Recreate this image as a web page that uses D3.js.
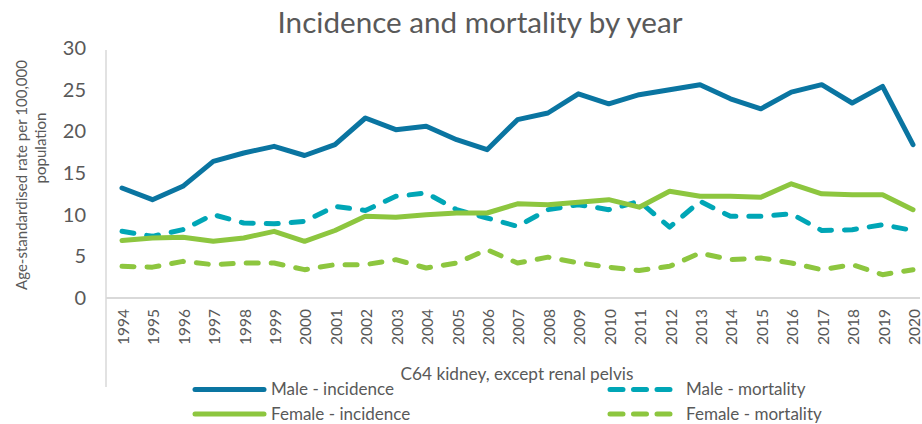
<!DOCTYPE html>
<html>
<head>
<meta charset="utf-8">
<title>Incidence and mortality by year</title>
<script src="https://d3js.org/d3.v7.min.js"></script>
<style>
  body { margin: 0; background: #fff; }
  text { font-family: Lato, "Open Sans", sans-serif; fill: #595959; }
</style>
</head>
<body>
<script>
const years = d3.range(1994, 2021).map(String);
const maleIncidence = [13.2, 11.8, 13.4, 16.4, 17.4, 18.2, 17.1, 18.4, 21.6, 20.2, 20.6, 19.0, 17.8, 21.4, 22.2, 24.5, 23.3, 24.4, 25.0, 25.6, 23.9, 22.7, 24.7, 25.6, 23.4, 25.4, 18.4];
const maleMortality = [8.0, 7.4, 8.2, 10.0, 9.0, 8.9, 9.2, 11.0, 10.5, 12.2, 12.6, 10.6, 9.6, 8.6, 10.6, 11.2, 10.6, 11.6, 8.5, 11.6, 9.8, 9.8, 10.1, 8.1, 8.2, 8.8, 8.1];
const femaleIncidence = [6.9, 7.2, 7.3, 6.8, 7.2, 8.0, 6.8, 8.1, 9.8, 9.7, 10.0, 10.2, 10.2, 11.3, 11.2, 11.5, 11.8, 10.9, 12.8, 12.2, 12.2, 12.1, 13.7, 12.5, 12.4, 12.4, 10.6];
const femaleMortality = [3.8, 3.7, 4.4, 4.0, 4.2, 4.2, 3.4, 4.0, 4.0, 4.6, 3.6, 4.2, 5.8, 4.2, 4.9, 4.2, 3.7, 3.3, 3.8, 5.4, 4.6, 4.8, 4.2, 3.4, 4.0, 2.8, 3.4];
const yTicks = [0, 5, 10, 15, 20, 25, 30];

const series = [
  {name: "Male - incidence", values: maleIncidence, color: "#0a75a1", dash: false},
  {name: "Male - mortality", values: maleMortality, color: "#00a6b6", dash: true},
  {name: "Female - incidence", values: femaleIncidence, color: "#8dc63f", dash: false},
  {name: "Female - mortality", values: femaleMortality, color: "#8dc63f", dash: true}
];

const width = 922, height = 424;
const svg = d3.select("body").append("svg")
  .attr("width", width).attr("height", height);

const x = d3.scalePoint().domain(years).range([122, 913]);
const y = d3.scaleLinear().domain([0, 30]).range([298, 48]);

// scale a text's font so its rendered width matches the width in the picture
function fit(sel, w) {
  sel.each(function() {
    const fs = parseFloat(this.style.fontSize);
    const len = this.getComputedTextLength();
    this.style.fontSize = (fs * w / len).toFixed(2) + "px";
  });
}

// title
svg.append("text")
  .attr("x", 480).attr("y", 33)
  .attr("text-anchor", "middle")
  .style("font-size", "25px")
  .text("Incidence and mortality by year")
  .call(fit, 405);

// axis lines
svg.append("line")
  .attr("x1", 106).attr("x2", 106).attr("y1", 50).attr("y2", 387)
  .attr("stroke", "#d9d9d9").attr("stroke-width", 1.5);
svg.append("line")
  .attr("x1", 106).attr("x2", 920).attr("y1", y(0)).attr("y2", y(0))
  .attr("stroke", "#d9d9d9").attr("stroke-width", 2);

// y axis labels
const yAxis = svg.append("g").attr("transform", "translate(86,0)")
  .call(d3.axisLeft(y).tickValues(yTicks).tickSize(0).tickPadding(0));
yAxis.select(".domain").remove();
yAxis.selectAll("text").style("font-size", "20px").attr("fill", "#595959");

// x axis labels
const xAxis = svg.append("g").attr("transform", "translate(1," + (y(0) + 12) + ")")
  .call(d3.axisBottom(x).tickSize(0).tickPadding(0));
xAxis.select(".domain").remove();
xAxis.selectAll("text")
  .style("font-size", "15.5px").attr("fill", "#595959")
  .attr("text-anchor", "start")
  .attr("transform", "rotate(-90)")
  .attr("x", -35).attr("y", 0).attr("dy", "0.35em");

// y axis title (two lines)
const yt1 = svg.append("text")
  .attr("transform", "translate(22,175) rotate(-90)")
  .attr("text-anchor", "middle")
  .attr("dy", "0.35em")
  .style("font-size", "16px")
  .text("Age-standardised rate per 100,000")
  .call(fit, 230);
svg.append("text")
  .attr("transform", "translate(41,148) rotate(-90)")
  .attr("text-anchor", "middle")
  .attr("dy", "0.35em")
  .style("font-size", yt1.style("font-size"))
  .text("population");

// x axis title
svg.append("text")
  .attr("x", 517).attr("y", 380)
  .attr("text-anchor", "middle")
  .style("font-size", "17px")
  .text("C64 kidney, except renal pelvis")
  .call(fit, 233);

// lines
const line = d3.line()
  .x((d, i) => x(years[i]))
  .y(d => y(d));

svg.selectAll("path.series")
  .data(series)
  .join("path")
  .attr("class", "series")
  .attr("d", d => line(d.values))
  .attr("fill", "none")
  .attr("stroke", d => d.color)
  .attr("stroke-width", 5)
  .attr("stroke-linejoin", "round")
  .attr("stroke-linecap", "round")
  .attr("stroke-dasharray", d => d.dash ? "12,13" : null);

// legend
const legendPos = [[195, 389.5], [610, 389.5], [195, 414], [610, 414]];
const lg = svg.selectAll("g.legend")
  .data(series)
  .join("g")
  .attr("class", "legend")
  .attr("transform", (d, i) => "translate(" + legendPos[i][0] + "," + legendPos[i][1] + ")");
lg.append("line")
  .attr("x1", 0).attr("x2", d => d.dash ? 62 : 69).attr("y1", 0).attr("y2", 0)
  .attr("stroke", d => d.color)
  .attr("stroke-width", 5)
  .attr("stroke-linecap", "round")
  .attr("stroke-dasharray", d => d.dash ? "13,10.5" : null);
lg.append("text")
  .attr("x", 76).attr("y", 0).attr("dy", "0.35em")
  .style("font-size", "17px")
  .text(d => d.name);
lg.filter((d, i) => i === 0).select("text").call(fit, 123);
const lSize = lg.filter((d, i) => i === 0).select("text").style("font-size");
lg.selectAll("text").style("font-size", lSize);
</script>
</body>
</html>
